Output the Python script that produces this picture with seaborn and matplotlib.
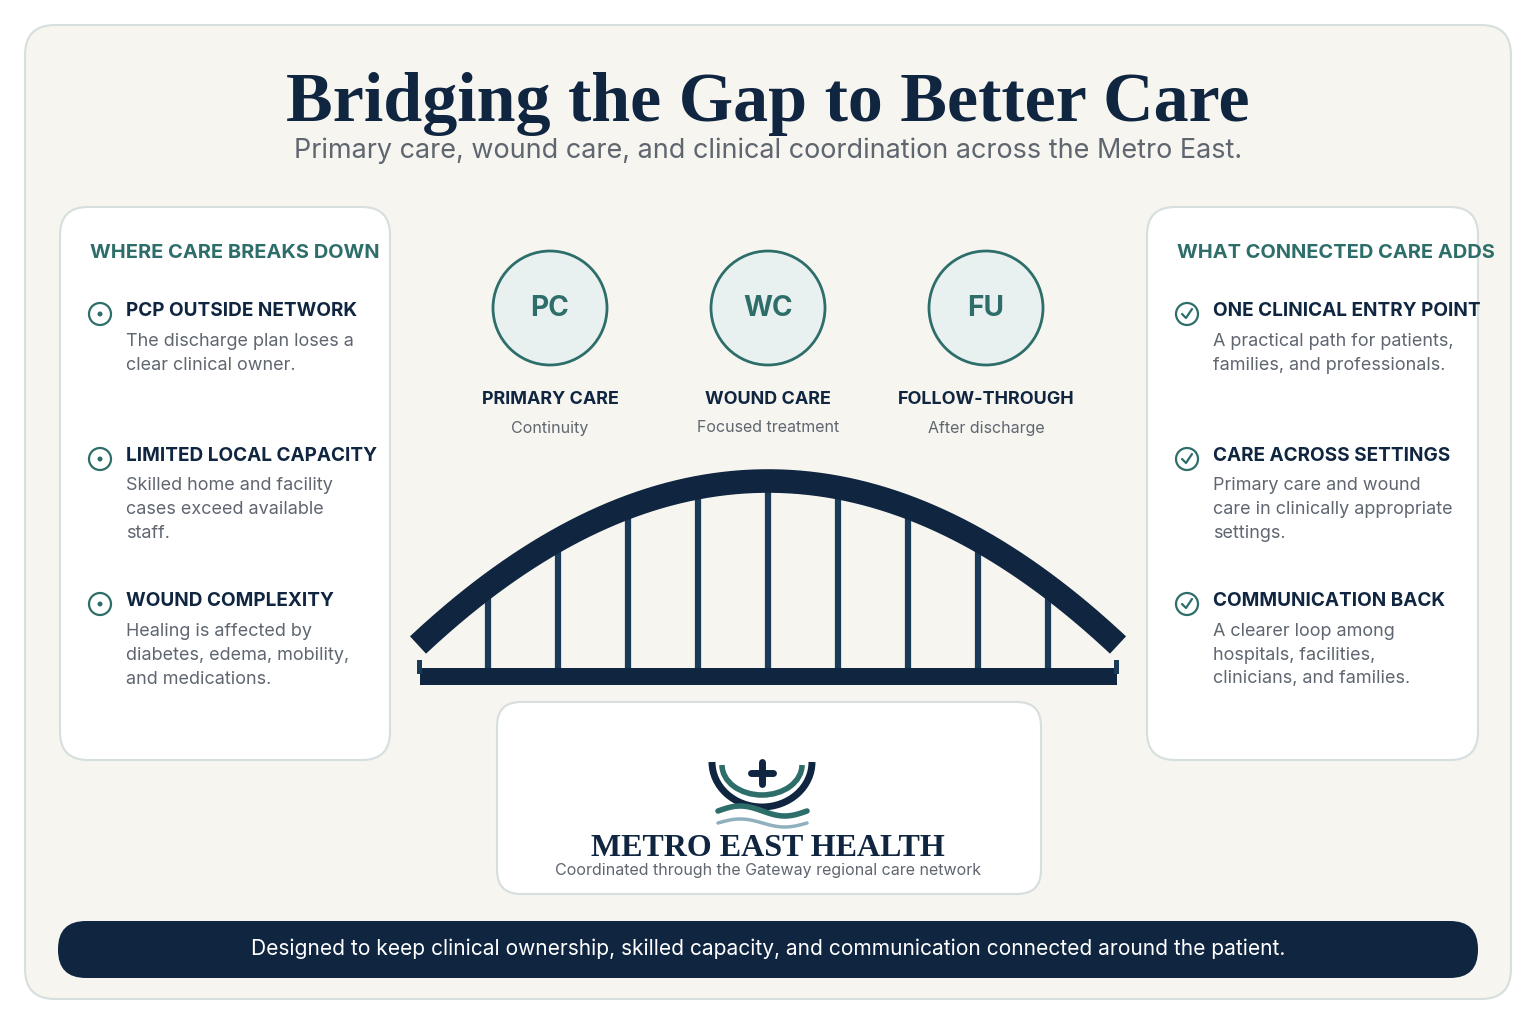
import matplotlib
matplotlib.use("Agg")
import matplotlib.pyplot as plt
import seaborn as sns
import numpy as np
from matplotlib.patches import FancyBboxPatch, Circle, Arc

sns.set_theme(style="white")
plt.rcParams['font.family'] = ['Inter', 'DejaVu Sans']

title = "Bridging the Gap to Better Care"
subtitle = "Primary care, wound care, and clinical coordination across the Metro East."
left_head = "WHERE CARE BREAKS DOWN"
left_titles = ["PCP OUTSIDE NETWORK", "LIMITED LOCAL CAPACITY", "WOUND COMPLEXITY"]
left_bodies = [["The discharge plan loses a", "clear clinical owner."],
               ["Skilled home and facility", "cases exceed available", "staff."],
               ["Healing is affected by", "diabetes, edema, mobility,", "and medications."]]
right_head = "WHAT CONNECTED CARE ADDS"
right_titles = ["ONE CLINICAL ENTRY POINT", "CARE ACROSS SETTINGS", "COMMUNICATION BACK"]
right_bodies = [["A practical path for patients,", "families, and professionals."],
                ["Primary care and wound", "care in clinically appropriate", "settings."],
                ["A clearer loop among", "hospitals, facilities,", "clinicians, and families."]]
pillar_codes = ["PC", "WC", "FU"]
pillar_names = ["PRIMARY CARE", "WOUND CARE", "FOLLOW-THROUGH"]
pillar_subs = ["Continuity", "Focused treatment", "After discharge"]
hanger_pos = [1, 2, 3, 4, 5, 6, 7, 8, 9]  # hanger index along the 10-segment span
brand = "METRO EAST HEALTH"
brand_sub = "Coordinated through the Gateway regional care network"
footer = "Designed to keep clinical ownership, skilled capacity, and communication connected around the patient."

NAVY = "#0f2540"; TEAL = "#2e6e6a"; GRAY = "#5f6670"; EDGE = "#d6dede"

def fs(px): return px * 0.72

fig = plt.figure(figsize=(15.36, 10.24), dpi=100)
ax = fig.add_axes([0, 0, 1, 1])
ax.set_xlim(0, 1536); ax.set_ylim(1024, 0); ax.axis("off")
fig.patch.set_facecolor("white")

def rbox(x0, y0, x1, y1, r, fc, ec, lw=1.5, z=1):
    ax.add_patch(FancyBboxPatch((x0 + r, y0 + r), x1 - x0 - 2 * r, y1 - y0 - 2 * r,
                                boxstyle=f"round,pad={r}", fc=fc, ec=ec, lw=lw, zorder=z))

rbox(25, 25, 1511, 999, 30, "#f6f5f0", EDGE)
ax.text(768, 104, title, ha="center", va="center", fontsize=fs(70), fontweight="bold",
        color=NAVY, family="Liberation Serif")
ax.text(768, 151, subtitle, ha="center", va="center", fontsize=fs(27), color=GRAY)

def card(x0, x1, head, titles, bodies, check):
    rbox(x0, 207, x1, 760, 28, "white", EDGE, z=2)
    ax.text(x0 + 30, 253, head, ha="left", va="center", fontsize=fs(20), fontweight="bold", color=TEAL, zorder=3)
    for i, (t, b) in enumerate(zip(titles, bodies)):
        y = 311 + i * 145
        cx = x0 + 40
        ax.add_patch(Circle((cx, y + 3), 11, fc="white", ec=TEAL, lw=1.6, zorder=3))
        if check:
            ax.plot([cx - 5, cx - 1, cx + 5], [y + 3, y + 7, y - 2], color=TEAL, lw=1.6, zorder=4)
        else:
            ax.add_patch(Circle((cx, y + 3), 2.5, fc=TEAL, ec="none", zorder=4))
        ax.text(x0 + 66, y, t, ha="left", va="center", fontsize=fs(19), fontweight="bold", color=NAVY, zorder=3)
        for j, line in enumerate(b):
            ax.text(x0 + 66, y + 30 + j * 24, line, ha="left", va="center", fontsize=fs(18), color=GRAY, zorder=3)

card(60, 390, left_head, left_titles, left_bodies, False)
card(1147, 1478, right_head, right_titles, right_bodies, True)

for i, (c, n, s) in enumerate(zip(pillar_codes, pillar_names, pillar_subs)):
    x = 550 + i * 218
    ax.add_patch(Circle((x, 308), 57, fc="#e8f1ef", ec=TEAL, lw=2, zorder=3))
    ax.text(x, 308, c, ha="center", va="center", fontsize=fs(28), fontweight="bold", color=TEAL, zorder=4)
    ax.text(x, 400, n, ha="center", va="center", fontsize=fs(18), fontweight="bold", color=NAVY)
    ax.text(x, 428, s, ha="center", va="center", fontsize=fs(16), color=GRAY)

# bridge
xl, xr, ybase, ytop = 418, 1118, 645, 481
def arch(x):
    u = (x - 768) / (xr - 768)
    return ytop + (ybase - ytop) * u ** 2
xs = np.linspace(xl, xr, 300)
ax.plot(xs, arch(xs), color=NAVY, lw=17, solid_capstyle="butt", zorder=3)
for h in hanger_pos:
    hx = xl + (xr - xl) * h / 10
    ax.plot([hx, hx], [arch(hx), 672], color="#1b3a57", lw=4.5, zorder=2)
ax.add_patch(plt.Rectangle((420, 668), 697, 17, fc=NAVY, ec="none", zorder=3))
ax.add_patch(plt.Rectangle((417, 660), 5, 14, fc="#1b3a57", ec="none", zorder=3))
ax.add_patch(plt.Rectangle((1114, 660), 5, 14, fc="#1b3a57", ec="none", zorder=3))

# brand card
rbox(497, 702, 1041, 894, 24, "white", EDGE, z=2)
ax.add_patch(Arc((762, 762), 100, 90, theta1=0, theta2=180, color=NAVY, lw=5, zorder=3))
ax.add_patch(Arc((762, 765), 80, 60, theta1=0, theta2=180, color=TEAL, lw=4, zorder=3))
ax.plot([762, 762], [762, 784], color=NAVY, lw=5, zorder=3)
ax.plot([751, 773], [773, 773], color=NAVY, lw=5, zorder=3)
wx = np.linspace(718, 807, 100)
ax.plot(wx, 811 - 5 * np.sin((wx - 718) / 89 * 2 * np.pi), color=TEAL, lw=4, zorder=3)
ax.plot(wx, 823 - 4 * np.sin((wx - 718) / 89 * 2 * np.pi), color="#8fb0bd", lw=2.5, zorder=3)
ax.text(768, 848, brand, ha="center", va="center", fontsize=fs(32), fontweight="bold",
        color=NAVY, family="Liberation Serif", zorder=3)
ax.text(768, 871, brand_sub, ha="center", va="center", fontsize=fs(16), color=GRAY, zorder=3)

rbox(58, 921, 1478, 978, 28, NAVY, "none", z=2)
ax.text(768, 949, footer, ha="center", va="center", fontsize=fs(21), color="white", zorder=3)

fig.savefig("out.png", dpi=100, facecolor="white")
